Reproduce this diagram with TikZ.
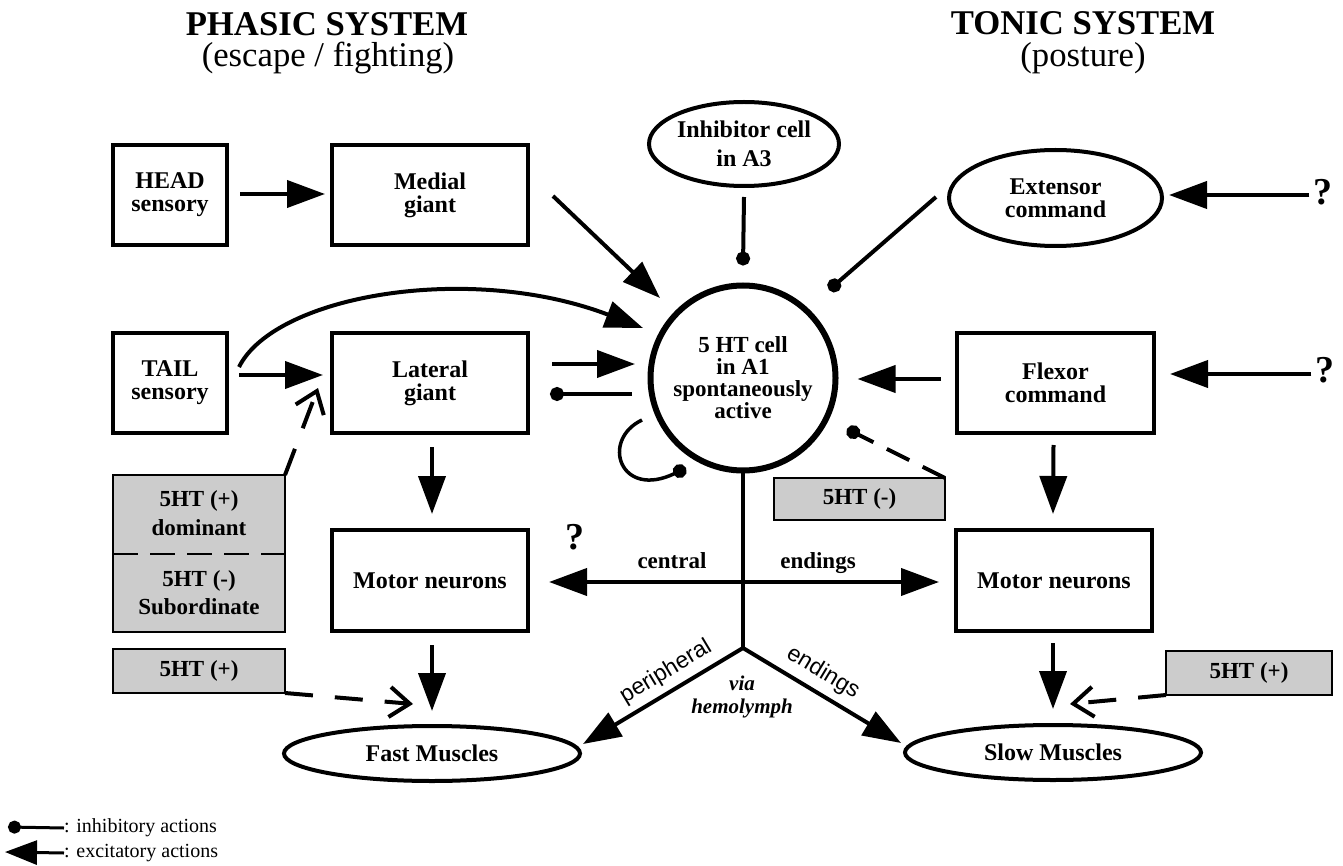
\documentclass[tikz,border=0pt]{standalone}
\usepackage{fontspec}
\setmainfont{Liberation Serif}
\newfontfamily\lsans{Liberation Sans}
\usetikzlibrary{arrows.meta,shapes.geometric,calc}
\definecolor{gfill}{gray}{0.8}
\begin{document}
\begin{tikzpicture}[x=1pt,y=-1pt,
  box/.style={draw,line width=4pt,rectangle,inner sep=0pt,outer sep=0pt,
    font=\fontsize{24}{23}\selectfont\bfseries,align=center},
  ell/.style={draw,line width=4pt,ellipse,inner sep=0pt,outer sep=0pt,
    font=\fontsize{24}{23}\selectfont\bfseries,align=center},
  gbox/.style={draw,line width=2pt,fill=gfill,rectangle,inner sep=0pt,outer sep=0pt,
    font=\fontsize{23}{23}\selectfont\bfseries},
  txt/.style={inner sep=0pt,font=\fontsize{23}{23}\selectfont\bfseries},
  qm/.style={inner sep=0pt,font=\fontsize{38}{38}\selectfont\bfseries},
  ttl/.style={inner sep=0pt,anchor=base,font=\fontsize{34.7}{40}\selectfont\bfseries},
  sttl/.style={inner sep=0pt,anchor=base,font=\fontsize{34.7}{40}\selectfont},
  exc/.style={line width=4pt,-{Triangle[length=38pt,width=27pt]}},
  dexc/.style={line width=4pt,{Triangle[length=38pt,width=27pt]}-{Triangle[length=38pt,width=27pt]}},
  inh/.style={line width=4pt,-{Circle[length=14pt]}},
  opn/.style={line width=4pt,dash pattern=on 28pt off 22pt,
    -{Straight Barb[length=20pt,width=30pt,line width=4pt]}},
]
\useasboundingbox (0,0) rectangle (1343,866);

% titles
\node[ttl] (t1) at (327,36) {PHASIC SYSTEM};
\node[sttl] (t2) at (328,67) {(escape / fighting)};
\node[ttl] (t3) at (1083,35) {TONIC SYSTEM};
\node[sttl] (t4) at (1083,67) {(posture)};

% nodes
\node[box,minimum width=114pt,minimum height=100pt] (head) at (170,195) {HEAD\\sensory};
\node[box,minimum width=196pt,minimum height=100pt] (medial) at (430,195) {Medial\\giant};
\node[box,minimum width=114pt,minimum height=100pt] (tail) at (170,383) {TAIL\\sensory};
\node[box,minimum width=196pt,minimum height=100pt] (lateral) at (430,383) {Lateral\\giant};
\node[box,minimum width=197pt,minimum height=100pt] (flexor) at (1055.5,383) {Flexor\\command};
\node[box,minimum width=196pt,minimum height=101pt] (mnL) at (430,580.5) {Motor neurons};
\node[box,minimum width=196pt,minimum height=101pt] (mnR) at (1054,580.5) {Motor neurons};
\node[ell,minimum width=190pt,minimum height=84pt,font=\fontsize{24}{29}\selectfont\bfseries] (inhib) at (744,144) {Inhibitor cell\\in A3};
\node[ell,minimum width=213pt,minimum height=96pt] (ext) at (1055.5,198) {Extensor\\command};
\node[draw,circle,line width=6pt,minimum size=185pt,inner sep=0pt,outer sep=0pt,
  font=\fontsize{23}{22}\selectfont\bfseries,align=center] (cell) at (743,378)
  {5 HT cell\\in A1\\spontaneously\\active};
\node[ell,minimum width=296pt,minimum height=55pt] (fast) at (432,753.5) {Fast Muscles};
\node[ell,minimum width=296pt,minimum height=55pt] (slow) at (1053,752.5) {Slow Muscles};

% gray boxes
\node[gbox,minimum width=172pt,minimum height=157pt] (domsub) at (199,553.5) {};
\draw[line width=2pt,dash pattern=on 25pt off 12pt] (domsub.west) -- (domsub.east);
\node[txt,anchor=base] (d1) at (199,506) {5HT (+)};
\node[txt,anchor=base] (d2) at (199,535) {dominant};
\node[txt,anchor=base] (d3) at (199,586) {5HT (-)};
\node[txt,anchor=base] (d4) at (199,614) {Subordinate};
\node[gbox,minimum width=172pt,minimum height=44pt] (htpL) at (199,671) {5HT (+)};
\node[gbox,minimum width=171pt,minimum height=42pt] (htm) at (859.5,499) {5HT (-)};
\node[gbox,minimum width=166pt,minimum height=44pt] (htpR) at (1249,673) {5HT (+)};

% question marks
\node[qm] (q1) at (1323,192) {?};
\node[qm] (q2) at (1325,370) {?};
\node[qm] (q3) at (575,537) {?};

% connectors
\draw[exc] ($(head.east)+(13,-1)$) -- ($(medial.west)+(-7,-1)$);
\draw[exc] ($(tail.east)+(12,-8)$) -- ($(lateral.west)+(-9,-8)$);
\draw[exc] ($(tail.east)+(12,-16)$) .. controls (275,295) and (470,262) .. ($(cell.center)+(-100,-50)$);
\draw[exc] ($(lateral.east)+(24,-19)$) -- ($(cell.center)+(-108,-14)$);
\draw[inh] ($(cell.center)+(-111,16)$) -- ($(lateral.east)+(22,11)$);
\draw[exc] ($(medial.east)+(25,1)$) -- ($(cell.center)+(-83,-80)$);
\draw[inh] ($(inhib.south)+(0,11)$) -- ($(cell.north)+(0,-20)$);
\draw[inh] ($(ext.west)+(-13,-1)$) -- ($(cell.center)+(86,-88)$);
\draw[exc] ($(flexor.west)+(-16,-4)$) -- ($(cell.east)+(22,1)$);
\draw[exc] ($(q1.west)+(-4,3)$) -- ($(ext.east)+(7,-3)$);
\draw[exc] ($(q2.west)+(-4,4)$) -- ($(flexor.east)+(16,-9)$);
\draw[inh,dash pattern=on 25pt off 15pt] (htm.north east) -- ($(cell.center)+(104,51)$);
\draw[inh,line width=3.5pt] ($(cell.center)+(-101,42)$) .. controls ($(cell.center)+(-143,62)$) and ($(cell.center)+(-123,122)$) .. ($(cell.center)+(-57,90)$);

\coordinate (j) at (743,648);
\draw[line width=4pt] (cell.south) -- (j);
\draw[dexc] ($(mnL.east)+(21,1.5)$) -- ($(mnR.west)+(-17,1.5)$);
\draw[dexc,line join=miter] ($(fast.east)+(3,-9.5)$) -- (j) -- ($(slow.west)+(-4,-9.5)$);

\draw[exc] ($(lateral.south)+(2,14)$) -- ($(mnL.north)+(2,-16)$);
\draw[exc] ($(mnL.south)+(2,14)$) -- ($(fast.north)+(0,-15)$);
\draw[exc] ($(flexor.south)+(-2,12)$) -- ($(mnR.north)+(-1,-16)$);
\draw[exc] ($(mnR.south)+(-1,12)$) -- ($(slow.north)+(0,-16)$);

\draw[opn] (htpL.south east) -- ($(fast.north)+(-19,-22)$);
\draw[opn] (htpR.south west) -- ($(slow.north)+(17,-21)$);
\draw[opn] (domsub.north east) -- ($(lateral.south west)+(-14,-45)$);

% labels
\node[txt,anchor=base] (lc) at (672,568) {central};
\node[txt,anchor=base] (le) at (818,568) {endings};
\node[inner sep=0pt,rotate=31,font=\lsans\fontsize{23}{23}\selectfont] (lp) at (666,672) {peripheral};
\node[inner sep=0pt,rotate=-31,font=\lsans\fontsize{23}{23}\selectfont] (le2) at (823,673) {endings};
\node[inner sep=0pt,anchor=base,font=\fontsize{21}{21}\selectfont\bfseries\itshape] (lv) at (742,690) {via};
\node[inner sep=0pt,anchor=base,font=\fontsize{21}{21}\selectfont\bfseries\itshape] (lh) at (742,713) {hemolymph};

% legend
\node[inner sep=0pt,anchor=west,font=\fontsize{20}{20}\selectfont] (leg1) at (64,828) {: inhibitory actions};
\node[inner sep=0pt,anchor=west,font=\fontsize{20}{20}\selectfont] (leg2) at (64,853) {: excitatory actions};
\coordinate (l1) at (8,827);
\coordinate (l2) at (5,852);
\draw[line width=3pt,-{Circle[length=13pt]}] (leg1.west) -- (l1);
\draw[line width=3pt,-{Triangle[length=32pt,width=24pt]}] (leg2.west) -- (l2);
\end{tikzpicture}
\end{document}
